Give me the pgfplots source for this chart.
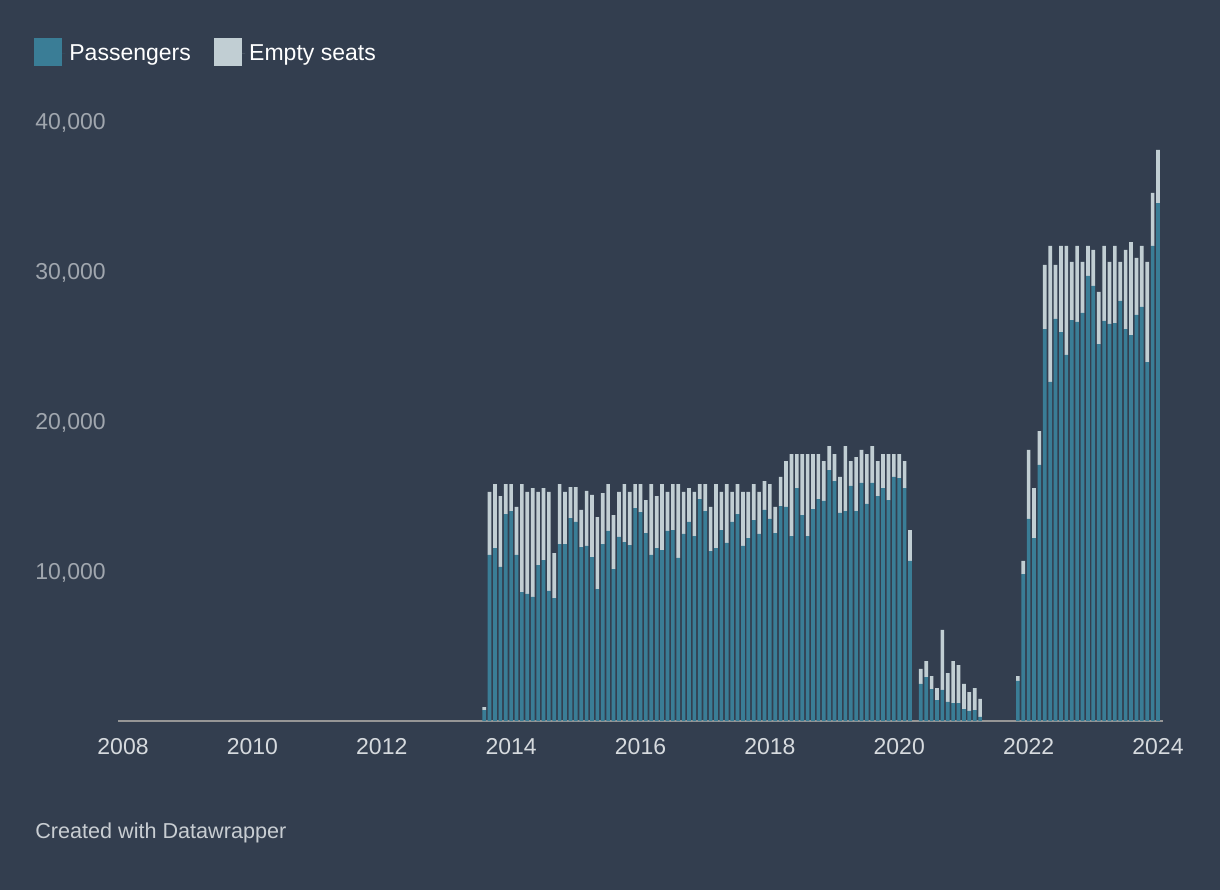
\documentclass[border=0pt]{standalone}
\usepackage{fontspec}
\setmainfont{Liberation Sans}
\usepackage{pgfplots}
\usepackage{pgfplotstable}
\pgfplotsset{compat=1.18}
\definecolor{bg}{RGB}{51,62,79}
\definecolor{pax}{RGB}{58,125,150}
\definecolor{emp}{RGB}{193,206,211}
\definecolor{axgrey}{RGB}{150,150,150}
\definecolor{ylab}{RGB}{160,166,174}
\definecolor{xlab}{RGB}{214,218,222}
\definecolor{foot}{RGB}{200,205,210}

% m = months since Jan 2008, p = passengers, e = empty seats
\pgfplotstableread{
m p e
67 730 200
68 11070 4200
69 11530 4270
70 10270 4730
71 13800 2000
72 14000 1800
73 11070 3200
74 8600 7200
75 8470 6800
76 8270 7260
77 10400 4870
78 10730 4800
79 8670 6600
80 8200 3000
81 11800 4000
82 11800 3470
83 13530 2070
84 13270 2330
85 11600 2470
86 11670 3670
87 10930 4140
88 8800 4800
89 11800 3400
90 12670 3130
91 10130 3600
92 12270 3000
93 11930 3870
94 11730 3540
95 14200 1600
96 13930 1870
97 12530 2200
98 11070 4730
99 11530 3470
100 11400 4400
101 12670 2600
102 12730 3070
103 10870 4930
104 12470 2800
105 13270 2260
106 12330 2940
107 14800 1000
108 14000 1800
109 11330 2940
110 11530 4270
111 12730 2540
112 11870 3930
113 13270 2000
114 13800 2000
115 11670 3600
116 12200 3070
117 13400 2400
118 12470 2800
119 14070 1930
120 13470 2330
121 12530 1740
122 14330 1940
123 14270 3060
124 12330 5470
125 15530 2270
126 13730 4070
127 12330 5470
128 14130 3670
129 14800 3000
130 14670 2660
131 16730 1600
132 16000 1800
133 13870 2400
134 14000 4330
135 15670 1660
136 14000 3600
137 15870 2200
138 14470 3330
139 15870 2460
140 15000 2330
141 15530 2270
142 14730 3070
143 16270 1530
144 16200 1600
145 15530 1800
146 10670 2060
148 2470 1000
149 2930 1070
150 2130 870
151 1400 800
152 2070 4000
153 1270 1930
154 1200 2800
155 1200 2530
156 800 1670
157 670 1260
158 730 1470
159 270 1200
166 2670 330
167 9800 870
168 13470 4600
169 12200 3330
170 17070 2260
171 26130 4270
172 22600 9070
173 26800 3600
174 25930 5740
175 24400 7270
176 26730 3870
177 26600 5070
178 27200 3400
179 29670 2000
180 29000 2400
181 25130 3470
182 26670 5000
183 26470 4130
184 26530 5140
185 28000 2600
186 26130 5270
187 25730 6200
188 27070 3800
189 27600 4070
190 23930 6670
191 31670 3530
192 34530 3540
}\data

\begin{document}
\begin{tikzpicture}
\fill[bg] (0,0) rectangle (610pt,445pt);
\begin{axis}[
  at={(59pt,84.5pt)}, anchor=south west,
  scale only axis, width=522.5pt, height=300pt,
  xmin=-0.93, xmax=192.93, ymin=0, ymax=40000,
  ybar stacked, bar width=0.68,
  axis x line*=bottom, axis y line*=left,
  x axis line style={draw=axgrey, line width=1pt, -},
  y axis line style={draw=none},
  major tick length=0pt, tick style={draw=none},
  xtick={0,24,...,192},
  xticklabels={2008,2010,2012,2014,2016,2018,2020,2022,2024},
  ytick={10000,20000,30000,40000},
  scaled y ticks=false,
  /pgf/number format/1000 sep={,},
  /pgf/number format/assume math mode=true,
  xticklabel style={anchor=north, inner sep=0pt, yshift=-8.5pt, font=\fontsize{11.5}{13}\selectfont, text=xlab},
  yticklabel style={anchor=base west, inner sep=0pt, xshift=-41.5pt, yshift=-4.1pt, font=\fontsize{11.5}{13}\selectfont, text=ylab},
  legend columns=2,
  legend style={at={(-0.0804,1.1142)}, anchor=west, draw=none, fill=none, inner sep=0pt,
    font=\fontsize{11.5}{13}\selectfont, text=white,
    /tikz/every even column/.append style={column sep=9.7pt}},
  legend cell align=left,
  clip=false,
]
\addplot[fill=pax, draw=none, legend image code/.code={\path (0pt,0pt) -- (15.5pt,0pt);\fill[pax] (0pt,-6pt) rectangle (14pt,8pt);}] table[x=m, y=p] {\data};
\addplot[fill=emp, draw=none, legend image code/.code={\path (0pt,0pt) -- (15.5pt,0pt);\fill[emp] (0pt,-6pt) rectangle (14pt,8pt);}] table[x=m, y=e] {\data};
\legend{Passengers, Empty seats}
\end{axis}
\node[anchor=base west, text=foot, font=\fontsize{10.8}{13}\selectfont, inner sep=0pt] at (17.5pt,26pt) {Created with Datawrapper};
\end{tikzpicture}
\end{document}
